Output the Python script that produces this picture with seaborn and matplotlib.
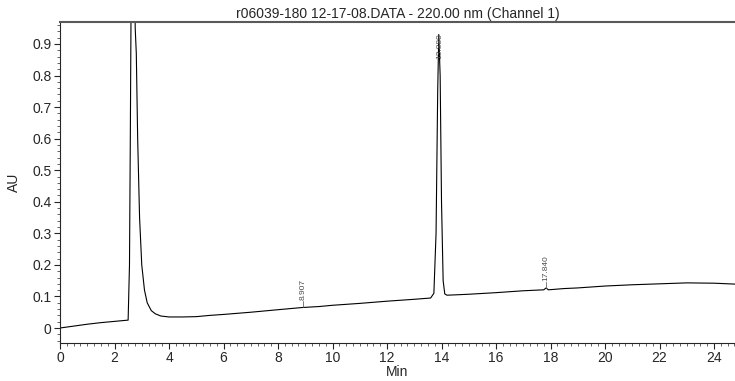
import numpy as np
import pandas as pd
import seaborn as sns
import matplotlib.pyplot as plt
from matplotlib.ticker import MultipleLocator

# chromatogram trace (min, AU)
time_min = [0.0, 0.5, 1.0, 1.5, 2.0, 2.5, 2.55, 2.58, 2.62, 2.72, 2.76, 2.8, 2.85,
            2.92, 3.0, 3.1, 3.2, 3.35, 3.5, 3.7, 4.0, 4.5, 5.0, 5.5, 6.0, 7.0, 8.0,
            8.9, 9.5, 10.0, 11.0, 12.0, 13.0, 13.6, 13.72, 13.8, 13.86, 13.9, 13.95,
            14.0, 14.06, 14.12, 14.2, 14.5, 15.0, 16.0, 17.0, 17.75, 17.84, 17.92,
            18.5, 19.0, 20.0, 21.0, 22.0, 23.0, 24.0, 24.8]
absorb_au = [0.0, 0.006, 0.012, 0.017, 0.021, 0.025, 0.2, 0.6, 1.2, 1.2, 0.95, 0.87, 0.6,
             0.35, 0.2, 0.12, 0.08, 0.055, 0.045, 0.038, 0.035, 0.035, 0.036, 0.04, 0.043, 0.05, 0.058,
             0.065, 0.068, 0.072, 0.078, 0.085, 0.091, 0.095, 0.11, 0.3, 0.75, 0.93, 0.8,
             0.4, 0.15, 0.108, 0.104, 0.105, 0.107, 0.112, 0.118, 0.121, 0.127, 0.121,
             0.125, 0.127, 0.133, 0.137, 0.14, 0.143, 0.142, 0.139]

peak_times = [8.907, 13.880, 17.840]
peak_heights = [0.066, 0.93, 0.127]
peak_labels = ["8.907", "13.880", "17.840"]

df = pd.DataFrame({"Min": time_min, "AU": absorb_au})

sns.set_style("ticks")
plt.rcParams['font.family'] = ['Liberation Sans', 'DejaVu Sans']

fig = plt.figure(figsize=(7.35, 3.81), dpi=100)
ax = fig.add_axes([60 / 735, 38 / 381, 675 / 735, 321 / 381])
sns.lineplot(data=df, x="Min", y="AU", sort=False, color="black", linewidth=0.8, ax=ax)

for t, h, lab in zip(peak_times, peak_heights, peak_labels):
    if h > 0.8:
        # tall peak: label runs down alongside the peak
        ax.text(t + 0.05, h + 0.005, lab, rotation=90, fontsize=6, color="0.3",
                ha="center", va="top")
        continue
    ax.plot([t, t], [h, h + 0.02], color="0.4", linewidth=0.6)
    ax.text(t, h + 0.022, lab, rotation=90, fontsize=6, color="0.3",
            ha="center", va="bottom")

ax.set_xlim(0, 24.77)
ax.set_ylim(-0.0475, 0.9696)
ax.xaxis.set_major_locator(MultipleLocator(2))
ax.xaxis.set_minor_locator(MultipleLocator(0.25))
ax.yaxis.set_minor_locator(MultipleLocator(0.02))
ax.set_yticks([0, 0.1, 0.2, 0.3, 0.4, 0.5, 0.6, 0.7, 0.8, 0.9])
ax.set_yticklabels(["0", "0.1", "0.2", "0.3", "0.4", "0.5", "0.6", "0.7", "0.8", "0.9"])
ax.tick_params(axis="both", which="major", labelsize=10, length=4, width=0.8, pad=2)
ax.tick_params(axis="both", which="minor", length=2, width=0.5)

ax.spines["right"].set_visible(False)
ax.spines["top"].set_color("0.35")
ax.spines["top"].set_linewidth(1.5)
ax.set_xlabel("Min", fontsize=10, labelpad=0)
ax.set_ylabel("AU", fontsize=10, labelpad=8)
ax.set_title("r06039-180 12-17-08.DATA - 220.00 nm (Channel 1)", fontsize=10, pad=3)

fig.savefig("out.png", dpi=100)
